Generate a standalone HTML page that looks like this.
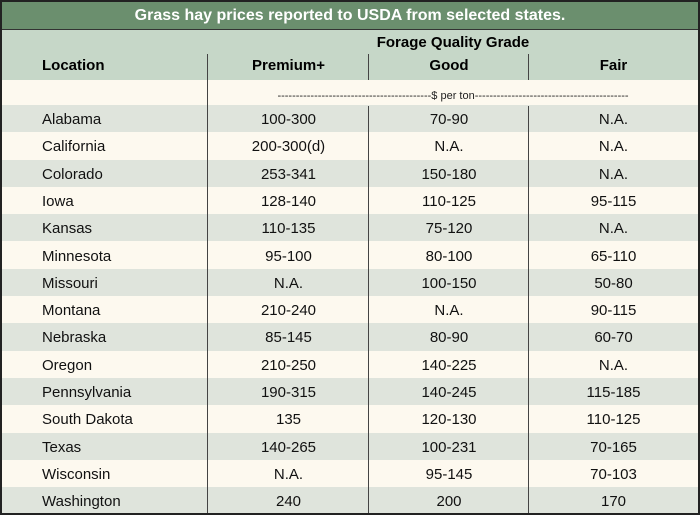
<!DOCTYPE html><html><head><style>
body{margin:0;width:700px;height:515px;overflow:hidden;background:#fff;font-family:"Liberation Sans",sans-serif}
#w{position:absolute;left:0;top:0;width:696px;height:511px;border:2px solid #222;background:#fdf9ef;overflow:hidden}
.t{position:absolute;left:0;top:0;width:696px;height:27px;background:#6b8f6e;color:#fff;font-weight:bold;font-size:16px;text-align:center;line-height:27px;border-bottom:1px solid #333}
.h{position:absolute;left:0;top:28px;width:696px;height:50px;background:#c6d7c8}
.r{position:absolute;left:0;width:696px;height:27.3px;font-size:15px;color:#111;line-height:29px}
.r span{position:absolute;text-align:center}
.a{left:40px}.b{left:206px;width:161px}.c{left:367px;width:160px}.d{left:527px;width:169px}
.v{position:absolute;width:1px;background:#444}
</style></head><body><div id="w">
<div class="t">Grass hay prices reported to USDA from selected states.</div>
<div class="h">
<div style="position:absolute;left:206px;width:490px;top:4px;text-align:center;font-weight:bold;font-size:15px">Forage Quality Grade</div>
<div style="position:absolute;left:40px;top:27px;font-weight:bold;font-size:15px">Location</div>
<div style="position:absolute;left:206px;width:161px;top:27px;text-align:center;font-weight:bold;font-size:15px">Premium+</div>
<div style="position:absolute;left:367px;width:160px;top:27px;text-align:center;font-weight:bold;font-size:15px">Good</div>
<div style="position:absolute;left:527px;width:169px;top:27px;text-align:center;font-weight:bold;font-size:15px">Fair</div>
</div>
<div style="position:absolute;left:206px;width:490px;top:88px;text-align:center;font-size:11px;color:#222;white-space:nowrap;overflow:hidden">------------------------------------------$ per ton------------------------------------------</div>
<div id="rows"></div>
<div class="v" style="left:205px;top:52px;height:459px"></div>
<div class="v" style="left:366px;top:52px;height:26px"></div>
<div class="v" style="left:526px;top:52px;height:26px"></div>
<div class="v" style="left:366px;top:104px;height:407px"></div>
<div class="v" style="left:526px;top:104px;height:407px"></div>
</div>
<script>
var d=[["Alabama","100-300","70-90","N.A."],["California","200-300(d)","N.A.","N.A."],["Colorado","253-341","150-180","N.A."],["Iowa","128-140","110-125","95-115"],["Kansas","110-135","75-120","N.A."],["Minnesota","95-100","80-100","65-110"],["Missouri","N.A.","100-150","50-80"],["Montana","210-240","N.A.","90-115"],["Nebraska","85-145","80-90","60-70"],["Oregon","210-250","140-225","N.A."],["Pennsylvania","190-315","140-245","115-185"],["South Dakota","135","120-130","110-125"],["Texas","140-265","100-231","70-165"],["Wisconsin","N.A.","95-145","70-103"],["Washington","240","200","170"]];
var h="";d.forEach(function(r,i){h+='<div class="r" style="top:'+(103+i*27.3)+'px;background:'+(i%2?'#fdf9ef':'#dfe4dc')+'"><span class="a">'+r[0]+'</span><span class="b">'+r[1]+'</span><span class="c">'+r[2]+'</span><span class="d">'+r[3]+'</span></div>'});
document.getElementById("rows").innerHTML=h;
</script>
</body></html>
